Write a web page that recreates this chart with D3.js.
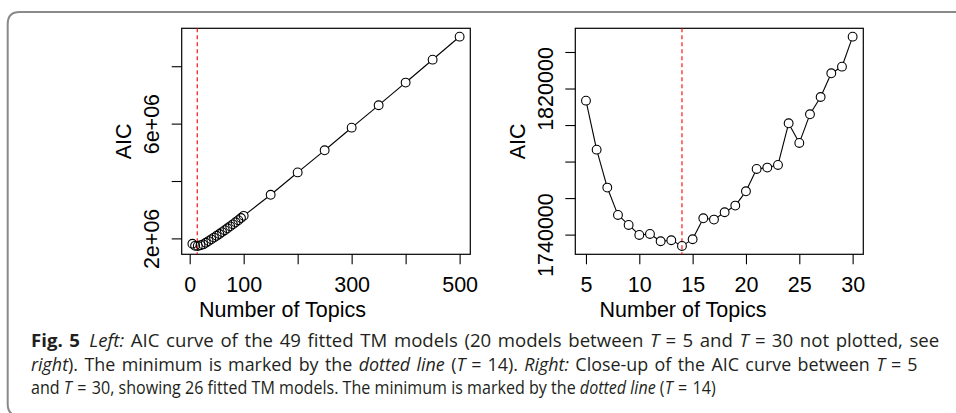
<!DOCTYPE html>
<html><head><meta charset="utf-8">
<script src="https://cdn.jsdelivr.net/npm/d3@7"></script>
<style>
html,body{margin:0;padding:0;background:#fff;}
svg{display:block;}
</style></head>
<body><svg id="c" width="956" height="413"></svg>
<script>
// ---- data ----
const leftTopics = [5,10,15,20,25,30,35,40,45,50,55,60,65,70,75,80,85,90,95,100,150,200,250,300,350,400,450,500];
const leftAIC = [1813360,1739820,1737450,1763720,1790180,1848390,1906000,1966000,2027000,2090000,2154000,2219000,2285000,2352000,2420000,2490000,2561000,2634000,2709000,2786000,3520000,4300000,5070000,5860000,6640000,7430000,8230000,9030000];
const rightTopics = [5,6,7,8,9,10,11,12,13,14,15,16,17,18,19,20,21,22,23,24,25,26,27,28,29,30];
const rightAIC = [1813360,1786530,1765730,1750770,1745290,1739820,1740360,1736350,1736900,1733800,1737450,1748940,1748210,1752230,1755880,1763720,1775950,1776680,1778140,1800950,1790180,1805880,1815360,1828320,1831970,1848390];
const minTopic = 14;
const leftXTicks = [0,100,200,300,400,500];
const leftXTickLabels = ["0","100","","300","","500"];
const leftYTicks = [2e6,4e6,6e6,8e6];
const leftYTickLabels = ["2e+06","","6e+06",""];
const rightXTicks = [5,10,15,20,25,30];
const rightXTickLabels = ["5","10","15","20","25","30"];
const rightYTicks = [1740000,1760000,1780000,1800000,1820000,1840000];
const rightYTickLabels = ["1740000","","","","1820000",""];
const xTitle = "Number of Topics";
const yTitle = "AIC";
const EQ = "\u2004=\u2004";
const captionLines = [
  [["Fig.\u00a05","b"],["\u2002",""],["Left:","i"],[" AIC curve of the 49 fitted TM models (20 models between ",""],["T","i"],[EQ+"5 and ",""],["T","i"],[EQ+"30 not plotted, see",""]],
  [["right","i"],["). The minimum is marked by the ",""],["dotted line","i"],[" (",""],["T","i"],[EQ+"14). ",""],["Right:","i"],[" Close-up of the AIC curve between ",""],["T","i"],[EQ+"5",""]],
  [["and ",""],["T","i"],[EQ+"30, showing 26 fitted TM models. The minimum is marked by the ",""],["dotted line","i"],[" (",""],["T","i"],[EQ+"14)",""]]
];

const svg = d3.select("#c");
const FONT = "'Liberation Sans', Arial, Helvetica, sans-serif";
const FS = "21.5px";

svg.append("path")
  .attr("d","M7.7,404 L7.7,24 Q7.7,12 19.7,12 L960,12 M7.7,404 Q7.7,416 19.7,416")
  .attr("fill","none").attr("stroke","#8a8a8a").attr("stroke-width",2);

function padDomain(vals){
  const e = d3.extent(vals); const p = (e[1]-e[0])*0.04;
  return [e[0]-p, e[1]+p];
}

function panel(o){
  const g = svg.append("g");
  const x = d3.scaleLinear().domain(padDomain(o.xs)).range([o.x0,o.x1]);
  const y = d3.scaleLinear().domain(padDomain(o.ys)).range([o.y1,o.y0]);

  const ax = g.append("g").attr("transform",`translate(0,${o.y1})`)
    .call(d3.axisBottom(x).tickValues(o.xTicks).tickSize(10).tickFormat((d,i)=>o.xLabels[i]));
  ax.select(".domain").remove();
  ax.selectAll("line").attr("stroke","#000").attr("stroke-width",1.1);
  ax.selectAll("text").attr("y",37.5).attr("dy",0).attr("fill","#000")
    .style("font-family",FONT).style("font-size",FS);

  const ay = g.append("g").attr("transform",`translate(${o.x0},0)`)
    .call(d3.axisLeft(y).tickValues(o.yTicks).tickSize(10).tickFormat((d,i)=>o.yLabels[i]));
  ay.select(".domain").remove();
  ay.selectAll("line").attr("stroke","#000").attr("stroke-width",1.1);
  ay.selectAll("text").attr("x",0).attr("y",0).attr("dy",0)
    .attr("transform","translate(-22.5,0) rotate(-90)")
    .attr("text-anchor","middle").attr("fill","#000")
    .style("font-family",FONT).style("font-size",FS);

  g.append("rect").attr("x",o.x0).attr("y",o.y0).attr("width",o.x1-o.x0).attr("height",o.y1-o.y0)
    .attr("fill","none").attr("stroke","#000").attr("stroke-width",1.2);

  g.append("line").attr("x1",x(minTopic)).attr("x2",x(minTopic)).attr("y1",o.y0).attr("y2",o.y1)
    .attr("stroke","#ff0000").attr("stroke-width",1.1).attr("stroke-dasharray","4,3");

  const r = 4.4;
  const pts = o.xs.map((d,i)=>[x(d),y(o.ys[i])]);
  for(let i=0;i<pts.length-1;i++){
    const [ax_,ay_] = pts[i], [bx,by] = pts[i+1];
    const dx=bx-ax_, dy=by-ay_, L=Math.hypot(dx,dy);
    if(L<=2*r) continue;
    const ux=dx/L, uy=dy/L;
    g.append("line").attr("x1",ax_+ux*r).attr("y1",ay_+uy*r).attr("x2",bx-ux*r).attr("y2",by-uy*r)
      .attr("stroke","#000").attr("stroke-width",1.1);
  }
  g.selectAll("circle.pt").data(pts).enter().append("circle")
    .attr("cx",d=>d[0]).attr("cy",d=>d[1]).attr("r",r)
    .attr("fill","none").attr("stroke","#000").attr("stroke-width",1.1);

  g.append("text").attr("x",o.xTitleX).attr("y",316.5).attr("text-anchor","middle")
    .style("font-family",FONT).style("font-size",FS).text(xTitle);
  g.append("text").attr("transform",`translate(${o.x0-50.5},${(o.y0+o.y1)/2}) rotate(-90)`)
    .attr("text-anchor","middle").style("font-family",FONT).style("font-size",FS).text(yTitle);
}

panel({xs:leftTopics, ys:leftAIC, x0:181.7, x1:470.3, y0:28.3, y1:254.3,
  xTicks:leftXTicks, xLabels:leftXTickLabels, yTicks:leftYTicks, yLabels:leftYTickLabels, xTitleX:282.5});
panel({xs:rightTopics, ys:rightAIC, x0:575.3, x1:863.3, y0:28.3, y1:254.3,
  xTicks:rightXTicks, xLabels:rightXTickLabels, yTicks:rightYTicks, yLabels:rightYTickLabels, xTitleX:683});

// caption: last line natural width sets the scale; justified lines get extra word spacing
const capBase = [347, 370.5, 394];
const capEnd = [940, 918, 716];
const capX = 31;
const texts = captionLines.map(segs=>{
  const t = svg.append("text").attr("x",0).attr("y",0)
    .style("font-family","'Open Sans','Noto Sans',sans-serif").style("font-size","18.5px")
    .attr("fill","#231f20").attr("xml:space","preserve").style("white-space","pre");
  segs.forEach(([s,st])=>{
    const ts = t.append("tspan").text(s);
    if(st==="b") ts.style("font-weight","700");
    if(st==="i") ts.style("font-style","italic");
  });
  return t;
});
const lens = texts.map(t=>t.node().getComputedTextLength());
const sx = (capEnd[2]-capX)/lens[2];
texts.forEach((t,li)=>{
  let s = sx;
  if(li<2){
    const nSp = captionLines[li].map(q=>q[0]).join("").split(" ").length-1;
    let extra = ((capEnd[li]-capX)/sx - lens[li])/nSp;
    extra = Math.max(0, Math.min(extra, 1.8));
    t.style("word-spacing", extra+"px");
    const len2 = t.node().getComputedTextLength();
    s = (capEnd[li]-capX)/len2;
  }
  t.attr("transform",`translate(${capX},${capBase[li]}) scale(${s},1)`);
});
</script>
</body></html>
